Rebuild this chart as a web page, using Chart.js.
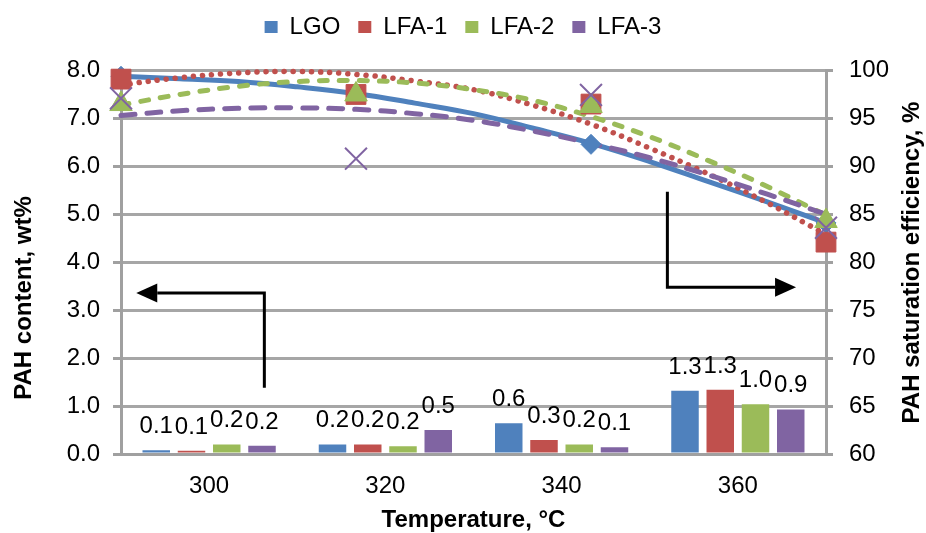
<!DOCTYPE html>
<html><head><meta charset="utf-8">
<script src="https://cdn.jsdelivr.net/npm/chart.js@4.4.0/dist/chart.umd.min.js"></script>
<style>html,body{margin:0;padding:0;background:#fff;}#wrap{width:926px;height:533px;}</style>
</head><body><div id="wrap"><canvas id="c" width="926" height="533"></canvas></div>
<script>
// ---- data ----
const categories = ['300', '320', '340', '360'];
const temps = [300, 320, 340, 360];
const seriesNames = ['LGO', 'LFA-1', 'LFA-2', 'LFA-3'];
// PAH content, wt% (bars, left axis)
const pahLGO  = [0.08, 0.20, 0.64, 1.32];
const pahLFA1 = [0.07, 0.20, 0.29, 1.34];
const pahLFA2 = [0.20, 0.16, 0.20, 1.04];
const pahLFA3 = [0.17, 0.50, 0.14, 0.93];
// PAH saturation efficiency, % (markers, right axis)
const effLGO  = [99.4, 97.6, 92.3, 84.1];
const effLFA1 = [99.1, 97.5, 96.5, 82.1];
const effLFA2 = [96.5, 97.5, 96.3, 84.3];
const effLFA3 = [97.1, 90.8, 97.45, 83.6];
// trend lines
const trendX    = [300, 305, 310, 315, 320, 325, 330, 335, 340, 345, 350, 355, 360];
const trendLGO  = [99.4, 99.15, 98.85, 98.3, 97.6, 96.6, 95.5, 94.0, 92.4, 90.5, 88.4, 86.3, 84.1];
const trendLFA1 = [98.5, 99.25, 99.75, 99.9, 99.6, 98.9, 98.0, 96.4, 94.4, 91.9, 89.2, 86.2, 82.9];
const trendLFA2 = [96.4, 97.5, 98.35, 98.85, 98.95, 98.7, 98.0, 96.9, 95.2, 93.1, 90.6, 87.9, 84.9];
const trendLFA3 = [95.3, 95.8, 96.05, 96.1, 95.95, 95.5, 94.8, 93.7, 92.4, 90.9, 89.1, 87.1, 85.0];
// axis ranges
const leftMin = 0, leftMax = 8, leftStep = 1;
const rightMin = 60, rightMax = 100, rightStep = 5;
// arrows (in data units: x on temperature scale, y on left axis)
const arrowLeftX  = [312.2, 312.2, 301.3];
const arrowLeftY  = [1.38, 3.36, 3.36];
const arrowRightX = [346.5, 346.5, 357.45];
const arrowRightY = [5.47, 3.48, 3.48];

const colors = ['#4F81BD', '#C0504D', '#9BBB59', '#8064A2'];
const FONT = "'Liberation Sans', Arial, sans-serif";
Chart.defaults.font.family = FONT;
Chart.defaults.color = '#000';

// bars share the category axis only; keep the grouping from counting the hidden scatter x axis
if (Chart.BarController && Chart.BarController.prototype._getAxisCount) {
  Chart.BarController.prototype._getAxisCount = function () { return 1; };
}

const pahSets = [pahLGO, pahLFA1, pahLFA2, pahLFA3];
const effSets = [effLGO, effLFA1, effLFA2, effLFA3];
const trendSets = [trendLGO, trendLFA1, trendLFA2, trendLFA3];
const markerStyles = ['rectRot', 'rect', 'triangle', 'crossRot'];
const markerRadius = [10, 14, 13, 15.5];
const trendDash = [[], [0.1, 9], [8, 12], [14, 12]];
const trendWidth = [5, 5.5, 5, 5];

const datasets = [];
pahSets.forEach((arr, i) => datasets.push({
  type: 'bar', label: seriesNames[i], data: arr, backgroundColor: colors[i],
  borderWidth: 0, xAxisID: 'x', yAxisID: 'y', order: 9 + i,
  barPercentage: 0.78, categoryPercentage: 0.8
}));
trendSets.forEach((arr, i) => datasets.push({
  type: 'line', label: seriesNames[i] + ' trend',
  data: trendX.map((x, j) => ({x: x, y: arr[j]})),
  xAxisID: 'xs', yAxisID: 'y2', borderColor: colors[i], borderWidth: trendWidth[i],
  borderDash: trendDash[i], borderCapStyle: 'round', pointRadius: 0, tension: 0.4,
  fill: false, clip: false, order: 8 - i
}));
effSets.forEach((arr, i) => datasets.push({
  type: 'line', label: seriesNames[i] + ' efficiency',
  data: temps.map((x, j) => ({x: x, y: arr[j]})),
  xAxisID: 'xs', yAxisID: 'y2', showLine: false,
  pointStyle: markerStyles[i], pointRadius: markerRadius[i],
  pointBackgroundColor: colors[i], pointBorderColor: colors[i],
  pointBorderWidth: i === 3 ? 2 : 1, clip: false, order: 4 - i
}));

const legendFix = {
  id: 'legendFix',
  afterInit(chart) {
    const orig = chart.legend.fit;
    chart.legend.fit = function () { orig.call(this); this.height = 73.5; };
  }
};

const barLabels = {
  id: 'barLabels',
  afterDatasetsDraw(chart) {
    const ctx = chart.ctx;
    ctx.save();
    ctx.font = '24px ' + FONT;
    ctx.fillStyle = '#000';
    ctx.textAlign = 'center';
    ctx.textBaseline = 'alphabetic';
    pahSets.forEach((arr, i) => {
      chart.getDatasetMeta(i).data.forEach((el, j) => {
        ctx.fillText(arr[j].toFixed(1), el.x, el.y - 17);
      });
    });
    ctx.restore();
  }
};

function drawArrow(chart, xs, ys) {
  const ctx = chart.ctx, sx = chart.scales.xs, sy = chart.scales.y;
  const px = xs.map(v => sx.getPixelForValue(v));
  const py = ys.map(v => sy.getPixelForValue(v));
  const n = px.length;
  const dx = px[n - 1] - px[n - 2], dy = py[n - 1] - py[n - 2];
  const len = Math.hypot(dx, dy), ux = dx / len, uy = dy / len;
  const headL = 21, headW = 9.5;
  const bx = px[n - 1] - ux * headL, by = py[n - 1] - uy * headL;
  ctx.save();
  ctx.strokeStyle = '#000'; ctx.fillStyle = '#000'; ctx.lineWidth = 3;
  ctx.beginPath();
  ctx.moveTo(px[0], py[0]);
  for (let k = 1; k < n - 1; k++) ctx.lineTo(px[k], py[k]);
  ctx.lineTo(bx, by);
  ctx.stroke();
  ctx.beginPath();
  ctx.moveTo(px[n - 1], py[n - 1]);
  ctx.lineTo(bx - uy * headW, by + ux * headW);
  ctx.lineTo(bx + uy * headW, by - ux * headW);
  ctx.closePath();
  ctx.fill();
  ctx.restore();
}

const extras = {
  id: 'extras',
  afterDraw(chart) {
    drawArrow(chart, arrowLeftX, arrowLeftY);
    drawArrow(chart, arrowRightX, arrowRightY);
    const ctx = chart.ctx;
    ctx.save();
    ctx.font = 'bold 24px ' + FONT;
    ctx.fillStyle = '#000';
    ctx.textAlign = 'center';
    ctx.textBaseline = 'middle';
    ctx.translate(24, 298);
    ctx.rotate(-Math.PI / 2);
    ctx.fillText('PAH content, wt%', 0, 0);
    ctx.restore();
    ctx.save();
    ctx.font = 'bold 24px ' + FONT;
    ctx.fillStyle = '#000';
    ctx.textAlign = 'center';
    ctx.textBaseline = 'middle';
    ctx.translate(912, 262.5);
    ctx.rotate(-Math.PI / 2);
    ctx.fillText('PAH saturation efficiency, %', 0, 0);
    ctx.restore();
  }
};

new Chart(document.getElementById('c'), {
  type: 'bar',
  data: { labels: categories, datasets: datasets },
  options: {
    responsive: false, animation: false, devicePixelRatio: 1,
    layout: { padding: { top: -3, left: 0, right: 0, bottom: 0 } },
    plugins: {
      tooltip: { enabled: false },
      legend: {
        position: 'top',
        labels: {
          filter: (item) => item.datasetIndex < 4,
          boxWidth: 13, boxHeight: 12, padding: 18,
          font: { size: 24, lineHeight: 1 }, color: '#000'
        }
      }
    },
    scales: {
      x: {
        type: 'category', position: 'bottom', offset: true,
        grid: { display: false, drawTicks: false },
        border: { display: true, color: '#a0a0a0', width: 3 },
        ticks: { font: { size: 24 }, color: '#000', padding: 18 },
        title: { display: true, text: 'Temperature, °C', font: { size: 24, weight: 'bold', lineHeight: 1 }, padding: { top: 0, bottom: 1 }, color: '#000' },
        afterFit(s) { s.height = 79; }
      },
      xs: { type: 'linear', min: 300, max: 360, display: false, offset: false },
      y: {
        position: 'left', min: leftMin, max: leftMax,
        ticks: { stepSize: leftStep, callback: (v) => Number(v).toFixed(1), font: { size: 24 }, color: '#000', padding: 13 },
        grid: { color: '#a6a6a6', lineWidth: 3, tickLength: 8, tickColor: '#a0a0a0' },
        border: { display: true, color: '#a0a0a0', width: 3 },
        afterFit(s) { s.width = 121; }
      },
      y2: {
        position: 'right', min: rightMin, max: rightMax,
        ticks: { stepSize: rightStep, font: { size: 24 }, color: '#000', padding: 16 },
        grid: { drawOnChartArea: false, lineWidth: 3, tickLength: 7, color: '#a0a0a0' },
        border: { display: true, color: '#a0a0a0', width: 3 },
        afterFit(s) { s.width = 100; }
      }
    }
  },
  plugins: [legendFix, barLabels, extras]
});
</script>
</body></html>
